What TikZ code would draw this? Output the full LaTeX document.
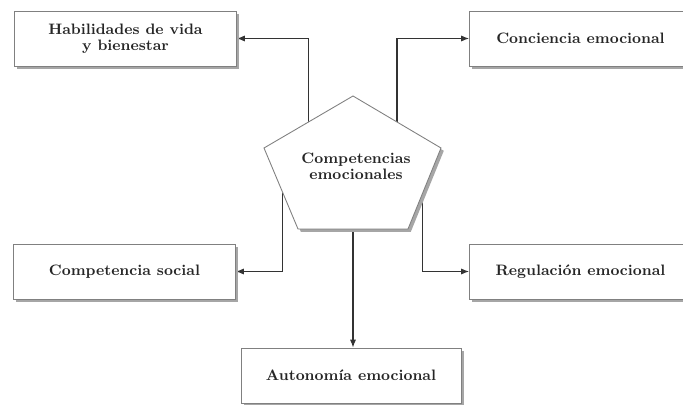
\documentclass[tikz,border=0pt]{standalone}
\usepackage{amsmath}
\usepackage{xcolor}
\usepackage{tikz}
\usetikzlibrary{calc}
\usetikzlibrary{shadows}
\usetikzlibrary{arrows.meta}
\pgfdeclarelayer{nodelayer}
\pgfdeclarelayer{edgelayer}
\pgfsetlayers{edgelayer,nodelayer,main}

\tikzset{
  boxnode/.style={rectangle, draw=black!50, line width=0.5pt, fill=white,
    minimum width=4.44cm, minimum height=1.1cm, align=center,
    font=\fontsize{8.6}{9}\selectfont\bfseries, text=black!85,
    drop shadow={shadow xshift=1.6pt, shadow yshift=-1.6pt, fill=black!35, opacity=1}},
  pentline/.style={draw=black!50, line width=0.5pt, fill=white,
    drop shadow={shadow xshift=1.6pt, shadow yshift=-1.6pt, fill=black!35, opacity=1}},
  arr/.style={draw=black!80, line width=0.6pt, -{Latex[length=4.5pt,width=3.5pt]}}
}

\begin{document}
\begin{tikzpicture}[x=0.02cm, y=-0.02cm]
  \useasboundingbox (0,0) rectangle (683,405);
  \begin{pgfonlayer}{nodelayer}
    \node [boxnode] (hab) at (125.5, 38.5) {Habilidades de vida\\y bienestar};
    \node [boxnode] (conc) at (580.5, 38.5) {Conciencia emocional};
    \node [boxnode] (soc) at (124.5, 271.5) {Competencia social};
    \node [boxnode] (reg) at (580.5, 271.5) {Regulación emocional};
    \node [boxnode, minimum width=4.4cm] (aut) at (351, 375.5) {Autonomía emocional};
    % pentagon
    \coordinate (p1) at (353, 96);
    \coordinate (p2) at (441, 148);
    \coordinate (p3) at (408, 229);
    \coordinate (p4) at (298, 229);
    \coordinate (p5) at (264, 148);
    \path [pentline] (p1) -- (p2) -- (p3) -- (p4) -- (p5) -- cycle;
    \node [align=center, font=\fontsize{8.6}{9}\selectfont\bfseries, text=black!85] (comp) at (356, 166) {Competencias\\emocionales};
  \end{pgfonlayer}
  \begin{pgfonlayer}{edgelayer}
    \coordinate (ul) at ($(p5)!0.5!(p1)$);
    \coordinate (ur) at ($(p1)!0.5!(p2)$);
    \coordinate (ll) at ($(p5)!0.55!(p4)$);
    \coordinate (lr) at ($(p2)!0.55!(p3)$);
    \coordinate (bc) at ($(p4)!0.5!(p3)$);
    \draw [arr] (ul) |- (hab.east);
    \draw [arr] (ur) |- (conc.west);
    \draw [arr] (ll) |- (soc.east);
    \draw [arr] (lr) |- (reg.west);
    \draw [arr] (bc) -- (bc |- aut.north);
  \end{pgfonlayer}
\end{tikzpicture}
\end{document}
